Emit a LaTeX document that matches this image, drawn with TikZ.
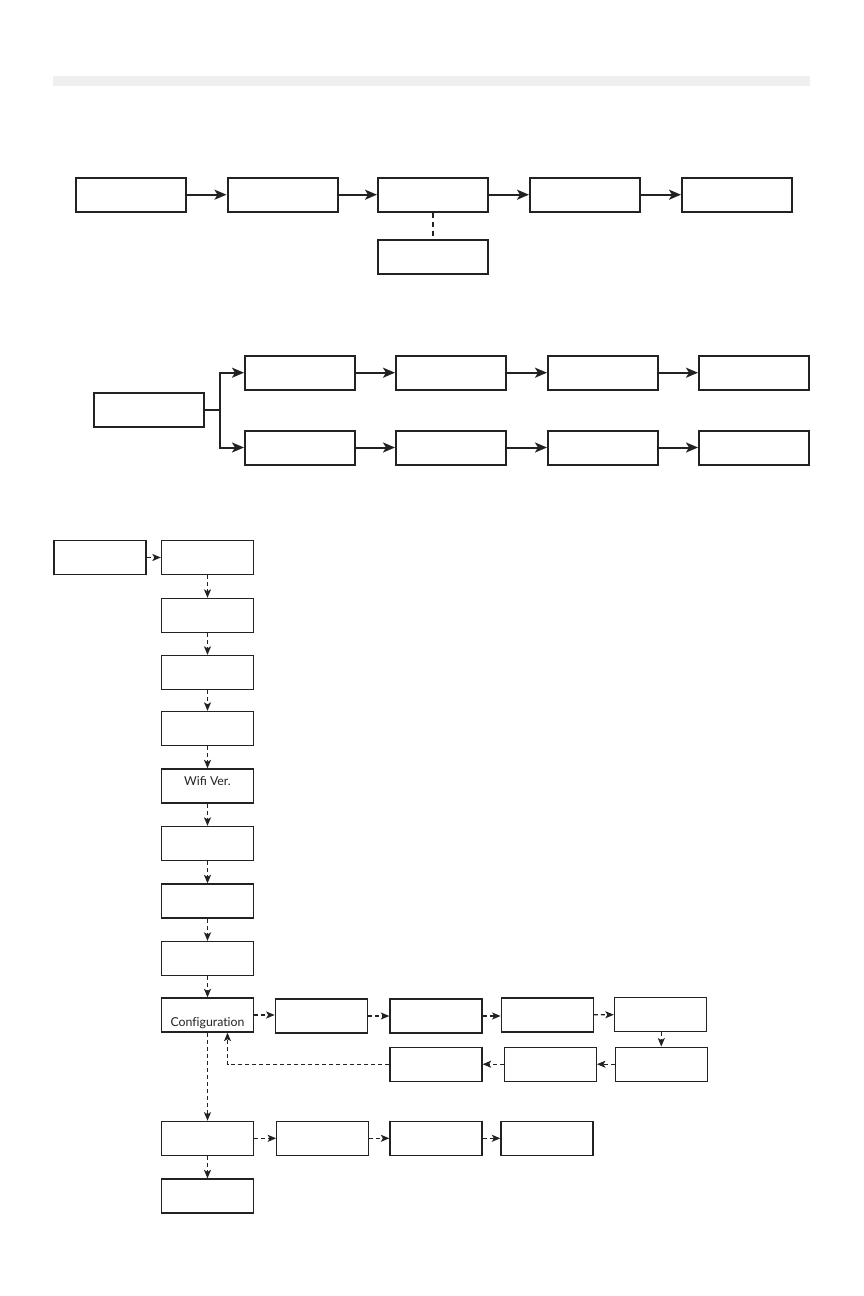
\documentclass[tikz,border=0pt]{standalone}
\usepackage{fontspec}
\setmainfont{Lato}
\usetikzlibrary{arrows.meta}
\definecolor{ink}{HTML}{222222}
\definecolor{barc}{HTML}{EFEFEF}
\tikzset{
  bigbox/.style={draw=ink, line width=2pt, minimum width=110pt, minimum height=34pt, inner sep=0pt},
  smallbox/.style={draw=ink, line width=1.3pt, minimum width=92pt, minimum height=34pt, inner sep=0pt},
  solidarr/.style={draw=ink, line width=2pt, -{Stealth[length=12pt,width=10pt,inset=3pt]}},
  thickdash/.style={draw=ink, line width=2pt, dash pattern=on 5pt off 4pt},
  dasharr/.style={draw=ink, line width=1.2pt, dash pattern=on 4pt off 3pt, -{Stealth[length=8.5pt,width=7pt,inset=2pt]}},
  lbl/.style={font=\fontsize{12.3}{14}\selectfont, text=ink, anchor=base, inner sep=0pt}
}
\begin{document}
\begin{tikzpicture}[x=1pt,y=-1pt]
\useasboundingbox (0,0) rectangle (864,1296);
% grey bar
\fill[barc] (53,76) rectangle (810,86);

% ---- row 1
\node[bigbox] (a1) at (131,194.7) {};
\node[bigbox] (a2) at (282.5,194.7) {};
\node[bigbox] (a3) at (433,194.7) {};
\node[bigbox] (a4) at (585,194.7) {};
\node[bigbox] (a5) at (737,194.7) {};
\node[bigbox] (a6) at (433,257) {};
\draw[solidarr] (a1) -- (a2);
\draw[solidarr] (a2) -- (a3);
\draw[solidarr] (a3) -- (a4);
\draw[solidarr] (a4) -- (a5);
\draw[thickdash] (a3.south) -- (a6.north);

% ---- row 2
\node[bigbox] (b0) at (149,410) {};
\node[bigbox] (t1) at (300,372.7) {};
\node[bigbox] (t2) at (451,372.7) {};
\node[bigbox] (t3) at (603,372.7) {};
\node[bigbox] (t4) at (754,372.7) {};
\node[bigbox] (u1) at (300,447.5) {};
\node[bigbox] (u2) at (451,447.5) {};
\node[bigbox] (u3) at (603,447.5) {};
\node[bigbox] (u4) at (754,447.5) {};
\coordinate (fork) at (220,410);
\draw[draw=ink, line width=2pt] (b0.east) -- (fork);
\draw[solidarr] (fork) |- (t1.west);
\draw[solidarr] (fork) |- (u1.west);
\draw[solidarr] (t1) -- (t2);
\draw[solidarr] (t2) -- (t3);
\draw[solidarr] (t3) -- (t4);
\draw[solidarr] (u1) -- (u2);
\draw[solidarr] (u2) -- (u3);
\draw[solidarr] (u3) -- (u4);

% ---- section 3
\node[smallbox] (s0) at (100,557.5) {};
\node[smallbox] (c1) at (207.5,557.5) {};
\node[smallbox] (c2) at (207.5,615.5) {};
\node[smallbox] (c3) at (207.5,672.5) {};
\node[smallbox] (c4) at (207.5,728.5) {};
\node[smallbox] (c5) at (207.5,786) {};
\node[smallbox] (c6) at (207.5,843.5) {};
\node[smallbox] (c7) at (207.5,901) {};
\node[smallbox] (c8) at (207.5,958.5) {};
\node[smallbox] (cfg) at (207.5,1015) {};
\node[smallbox] (g1) at (207.5,1138.3) {};
\node[smallbox] (g2) at (207.5,1196) {};
\node[lbl] (wifitext) at (207.5,785) {Wifi Ver.};
\node[lbl] (cfgtext) at (207.5,1026) {\addfontfeatures{Ligatures=NoCommon}Configuration};

\node[smallbox] (p1) at (321.3,1016) {};
\node[smallbox] (p2) at (436,1016) {};
\node[smallbox] (p3) at (547.3,1015) {};
\node[smallbox] (p4) at (660.5,1014.5) {};
\node[smallbox] (q1) at (661.3,1064.2) {};
\node[smallbox] (q2) at (550.3,1064.2) {};
\node[smallbox] (q3) at (436,1064.2) {};

\node[smallbox] (h1) at (322.8,1138.3) {};
\node[smallbox] (h2) at (436,1138.3) {};
\node[smallbox] (h3) at (547,1138.3) {};

\draw[dasharr] (s0) -- (c1);
\draw[dasharr] (c1) -- (c2);
\draw[dasharr] (c2) -- (c3);
\draw[dasharr] (c3) -- (c4);
\draw[dasharr] (c4) -- (c5);
\draw[dasharr] (c5) -- (c6);
\draw[dasharr] (c6) -- (c7);
\draw[dasharr] (c7) -- (c8);
\draw[dasharr] (c8) -- (cfg);
\draw[dasharr] (cfg.east) -- (p1.west |- cfg.east);
\draw[dasharr] (p1) -- (p2);
\draw[dasharr] (p2.east) -- (p3.west |- p2.east);
\draw[dasharr] (p3) -- (p4);
\draw[dasharr] (p4.south -| q1.north) -- (q1.north);
\draw[dasharr] (q1) -- (q2);
\draw[dasharr] (q2) -- (q3);
\draw[dasharr] (q3.west) -| ([xshift=20pt]cfg.south);
\draw[dasharr] (cfg) -- (g1);
\draw[dasharr] (g1) -- (g2);
\draw[dasharr] (g1) -- (h1);
\draw[dasharr] (h1) -- (h2);
\draw[dasharr] (h2) -- (h3);
\end{tikzpicture}
\end{document}
